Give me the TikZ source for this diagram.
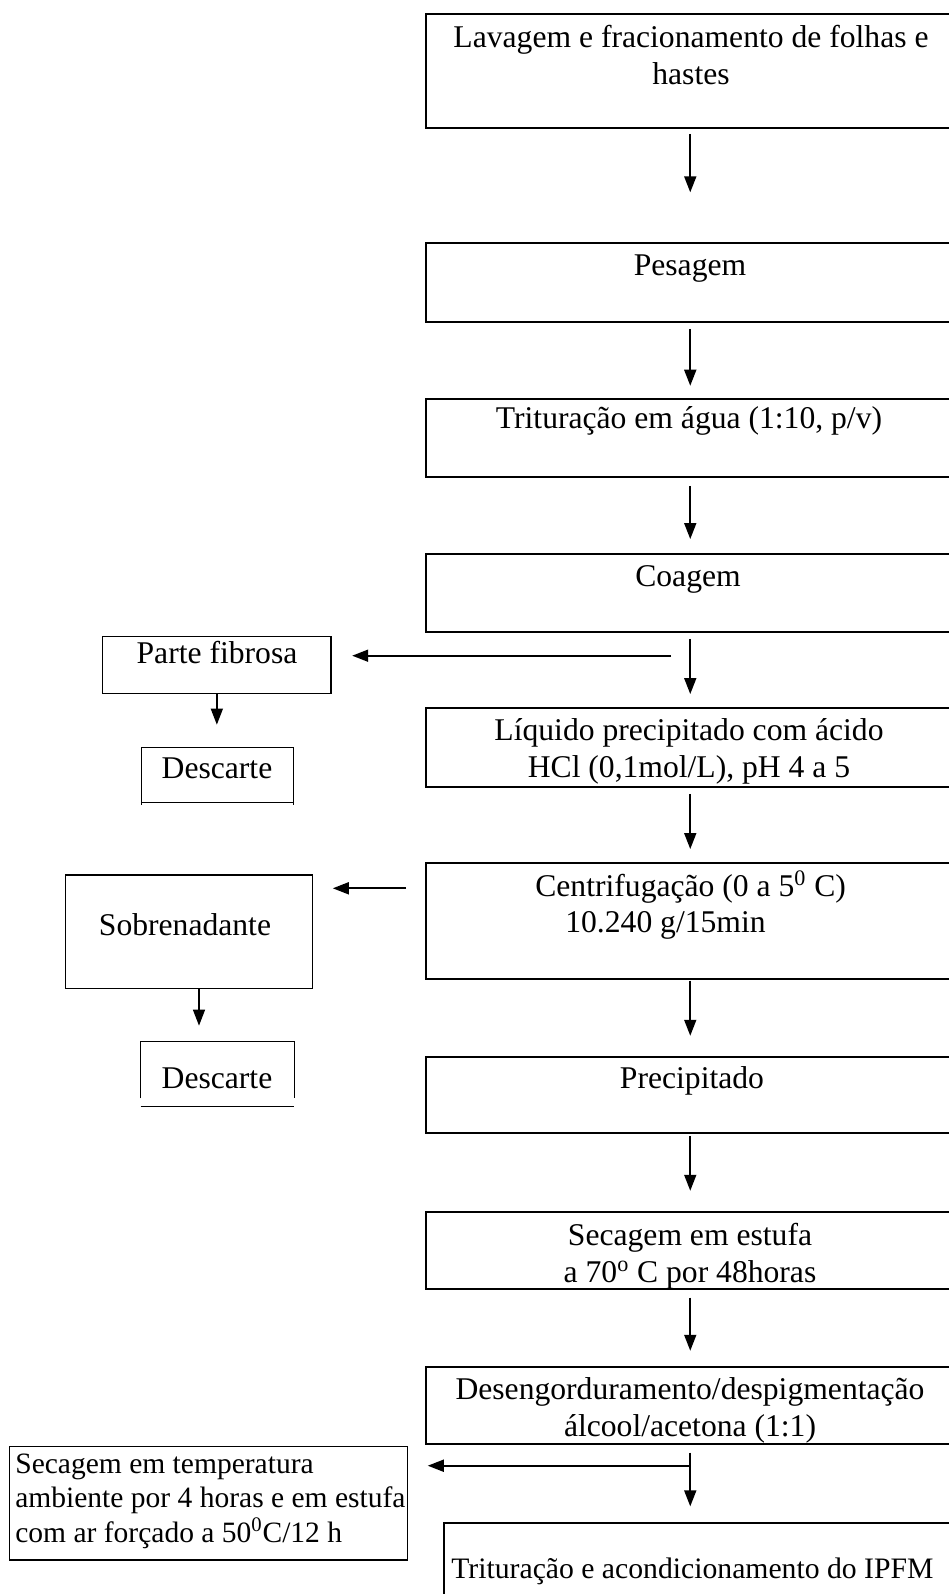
\documentclass[tikz,border=0pt]{standalone}
\usepackage{fontspec}
\setmainfont{Liberation Serif}
\usetikzlibrary{arrows.meta}

\begin{document}
\begin{tikzpicture}[x=0.02cm, y=-0.02cm,
    caixa/.style={draw, line width=1.1pt, minimum width=10.59cm, inner sep=0pt},
    lateral/.style={draw, line width=0.6pt, inner sep=0pt},
    texto/.style={font=\fontsize{18}{21}\selectfont, align=center, inner sep=0pt},
    seta/.style={line width=1pt, -{Triangle[length=0.32cm, width=0.24cm]}}]
        \useasboundingbox (0,0) rectangle (948,1594);

        \node[caixa, minimum height=2.286cm] (lavagem) at (690.25,71.15) {};
        \node[caixa, minimum height=1.568cm] (pesagem) at (690.25,282.5) {};
        \node[caixa, minimum height=1.554cm] (tritagua) at (690.25,437.85) {};
        \node[caixa, minimum height=1.554cm] (coagem) at (690.25,592.85) {};
        \node[caixa, minimum height=1.568cm] (liquido) at (690.25,747.5) {};
        \node[caixa, minimum height=2.308cm] (centrif) at (690.25,921) {};
        \node[caixa, minimum height=1.532cm] (precip) at (690.25,1095) {};
        \node[caixa, minimum height=1.534cm] (estufa) at (690.25,1250.65) {};
        \node[caixa, minimum height=1.546cm] (deseng) at (690.25,1405.35) {};
        \node[caixa, minimum width=10.31cm, minimum height=2cm] (final) at (702,1572.7) {};

        \node[lateral, minimum width=4.566cm, minimum height=1.132cm] (fibrosa) at (216.85,665) {};
        \node[inner sep=0pt, minimum width=3.032cm, minimum height=1.092cm] (descarte1) at (217.5,775) {};
        \node[lateral, minimum width=4.932cm, minimum height=2.266cm] (sobren) at (189,931.65) {};
        \node[inner sep=0pt, minimum width=3.06cm, minimum height=1.126cm] (descarte2) at (217.5,1069.85) {};
        \node[lateral, minimum width=7.968cm, minimum height=2.266cm] (secamb) at (208.5,1503.35) {};

        \draw[line width=0.6pt] ([yshift=-0.04cm]descarte1.south west) -- (descarte1.north west) -- (descarte1.north east) -- ([yshift=-0.04cm]descarte1.south east);
        \draw[line width=0.6pt] (descarte1.south west) -- (descarte1.south east);
        \draw[line width=0.6pt] (descarte2.south west) -- (descarte2.north west) -- (descarte2.north east) -- (descarte2.south east);
        \draw[line width=0.6pt] ([yshift=-0.16cm]descarte2.south west) -- ([yshift=-0.16cm]descarte2.south east);

        \node[texto] (tlavagem) at (691,55) {Lavagem e fracionamento de folhas e\\hastes};
        \node[texto] (tpesagem) at (690,269) {Pesagem};
        \node[texto] (ttritagua) at (689,421) {Trituração em água (1:10, p/v)};
        \node[texto] (tcoagem) at (688,579) {Coagem};
        \node[texto] (tliquido) at (689,751) {Líquido precipitado com ácido\\HCl (0,1mol/L), pH 4 a 5};
        \node[texto, align=left, anchor=west] (tcentrif) at (535,905) {Centrifugação (0 a 5\textsuperscript{0} C)\\\hspace*{0.6cm}10.240 g/15min};
        \node[texto] (tprecip) at (692,1081) {Precipitado};
        \node[texto] (testufa) at (690,1256) {Secagem em estufa\\a 70\textsuperscript{o} C por 48horas};
        \node[texto] (tdeseng) at (690,1410) {Desengorduramento/despigmentação\\álcool/acetona (1:1)};
        \node[texto, font=\fontsize{16.9}{20}\selectfont, anchor=west] (tfinal) at (451,1571) {Trituração e acondicionamento do IPFM};

        \node[texto] (tfibrosa) at (217,653) {Parte fibrosa};
        \node[texto] (tdescarte1) at (217,768) {Descarte};
        \node[texto] (tsobren) at (185,925) {Sobrenadante};
        \node[texto] (tdescarte2) at (217,1078) {Descarte};
        \node[texto, font=\fontsize{16.8}{19.6}\selectfont, align=left, anchor=west] (tsecamb) at (15,1501) {Secagem em temperatura\\ambiente por 4 horas e em estufa\\com ar forçado a 50\textsuperscript{0}C/12 h};

        \draw[seta, shorten <=0.094cm, shorten >=1cm] (lavagem) -- (pesagem);
        \draw[seta, shorten <=0.126cm, shorten >=0.246cm] (pesagem) -- (tritagua);
        \draw[seta, shorten <=0.166cm, shorten >=0.28cm] (tritagua) -- (coagem);
        \draw[seta, shorten <=0.126cm, shorten >=0.266cm] (coagem) -- (liquido);
        \draw[seta, shorten <=0.126cm, shorten >=0.266cm] (liquido) -- (centrif);
        \draw[seta, shorten <=0.02cm, shorten >=0.4cm] (centrif) -- (precip);
        \draw[seta, shorten <=0.034cm, shorten >=0.412cm] (precip) -- (estufa);
        \draw[seta, shorten <=0.154cm, shorten >=0.3cm] (estufa) -- (deseng);
        \draw[seta, shorten <=0.154cm, shorten >=0.308cm] (deseng.south) -- (deseng.south |- final.north);

        \coordinate (c1) at (671,655.7);
        \coordinate (c2) at (406,888.3);
        \coordinate (c3) at (690.25,1465.7);
        \draw[seta, shorten >=0.414cm] (c1) -- (c1 -| fibrosa.east);
        \draw[seta, shorten >=0.4cm] (c2) -- (c2 -| sobren.east);
        \draw[seta, shorten >=0.392cm] (c3) -- (c3 -| secamb.east);

        \draw[seta, line width=0.8pt, shorten >=0.454cm] (fibrosa.south) -- (fibrosa.south |- descarte1.north);
        \draw[seta, line width=0.8pt, shorten >=0.314cm] ([xshift=0.2cm]sobren.south) -- ([xshift=0.2cm]sobren.south |- descarte2.north);
      \end{tikzpicture}
\end{document}
